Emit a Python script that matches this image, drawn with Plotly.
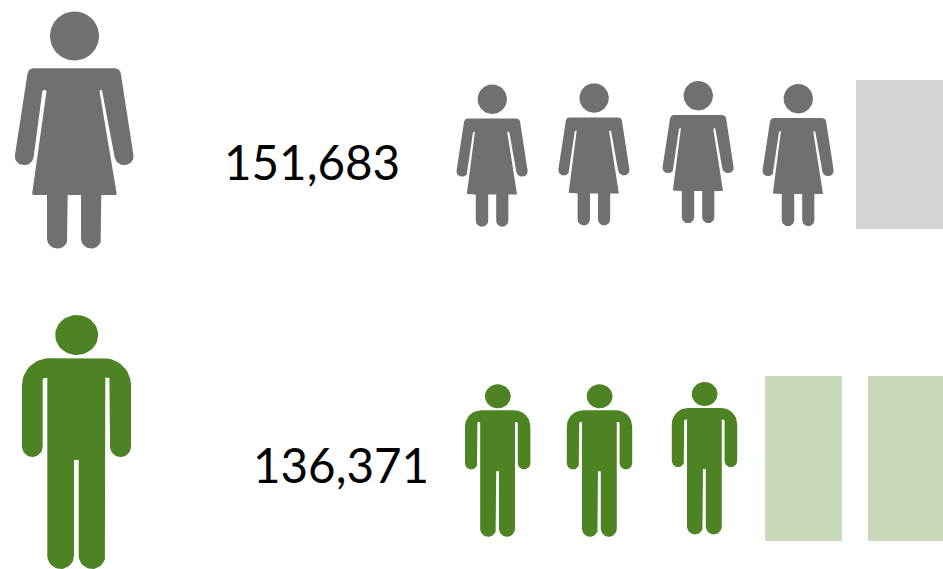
import math
import plotly.graph_objects as go

# values
grupos = ['Mujeres', 'Hombres']
totales = ['151,683', '136,371']
iconos_llenos = [4, 3]
bloques_claros = [1, 2]

GRIS = '#707070'
VERDE = '#4e8323'
GRIS_CLARO = '#d4d4d4'
VERDE_CLARO = '#c8d9bc'

# page placement, in pixels of the 943x569 picture
ICONOS_MUJER = [(456.5, 84.5), (558.3, 83.3), (662.5, 81), (762.5, 84)]
ICONOS_HOMBRE = [(465, 384.3), (566.8, 384.3), (671.8, 382)]
BLOQUES_MUJER = [(856, 80, 87, 149)]
BLOQUES_HOMBRE = [(765, 376, 77, 165), (868, 376, 76, 165)]
ESCALA = 0.6

# glyph outlines: (x, y, corner tangent length)
MUJER = [
    (28.3, 68.3, 5), (120, 68.3, 5), (134.8, 164, 9), (116.2, 166, 9),
    (102.7, 90, 1.5), (99.3, 90, 1.5), (116.9, 195, 1.5), (101.3, 195, 0),
    (101.3, 248.5, 10), (81, 248.5, 10), (81, 195, 0), (67.7, 195, 0),
    (67.7, 248.5, 10), (47, 248.5, 10), (47, 195, 0), (32, 195, 1.5),
    (46.7, 90, 1.5), (42.5, 90, 1.5), (32.5, 166, 9), (13.6, 164, 9),
]
MUJER_CABEZA = (74.5, 36, 24.5, 24.5)
HOMBRE = [
    (22, 358.3, 27), (131, 358.3, 27), (131, 457, 10.5), (110, 457, 10.5),
    (110, 377.7, 2), (105.3, 377.7, 0), (105.3, 569, 13.3), (78.7, 569, 13.3),
    (78.7, 460, 0), (74, 460, 0), (74, 569, 13.3), (47.3, 569, 13.3),
    (47.3, 377.7, 0), (42.7, 377.7, 2), (42.7, 457, 10.5), (22, 457, 10.5),
]
HOMBRE_CABEZA = (76.7, 335, 21.5, 20)


def contorno(vertices):
    """Closes a polygon, rounding each corner with a circular arc."""
    xs, ys = [], []
    n = len(vertices)
    for i, (x, y, d) in enumerate(vertices):
        if d == 0:
            xs.append(x)
            ys.append(y)
            continue
        px, py, _ = vertices[i - 1]
        nx, ny, _ = vertices[(i + 1) % n]
        l1 = math.hypot(px - x, py - y)
        l2 = math.hypot(nx - x, ny - y)
        ax, ay = x + (px - x) * d / l1, y + (py - y) * d / l1
        bx, by = x + (nx - x) * d / l2, y + (ny - y) * d / l2
        cos_a = ((px - x) * (nx - x) + (py - y) * (ny - y)) / (l1 * l2)
        peso = math.sqrt(max(0, (1 - cos_a) / 2))
        for k in range(13):
            t = k / 12
            a, b, c = (1 - t) ** 2, 2 * peso * t * (1 - t), t ** 2
            s = a + b + c
            xs.append((a * ax + b * x + c * bx) / s)
            ys.append((a * ay + b * y + c * by) / s)
    xs.append(xs[0])
    ys.append(ys[0])
    return xs, ys


def elipse(cx, cy, rx, ry):
    angulos = [2 * math.pi * k / 60 for k in range(61)]
    return ([cx + rx * math.cos(a) for a in angulos],
            [cy + ry * math.sin(a) for a in angulos])


def icono(fig, vertices, cabeza, color, izquierda=None, arriba=None, escala=1):
    """Draws one figure; its outline box is moved to izquierda/arriba."""
    cx, cy = contorno(vertices)
    hx, hy = elipse(*cabeza)
    x0 = min(cx)
    y0 = min(hy)
    if izquierda is None:
        izquierda, arriba = x0, y0
    xs = [izquierda + (v - x0) * escala for v in hx] + [None] + \
         [izquierda + (v - x0) * escala for v in cx]
    ys = [arriba + (v - y0) * escala for v in hy] + [None] + \
         [arriba + (v - y0) * escala for v in cy]
    fig.add_trace(go.Scatter(x=xs, y=ys, mode='lines', fill='toself',
                             fillcolor=color, line=dict(width=0, color=color),
                             hoverinfo='skip'))


def bloques(fig, cajas, color):
    fig.add_trace(go.Bar(x=[c[0] + c[2] / 2 for c in cajas],
                         y=[c[3] for c in cajas],
                         base=[c[1] for c in cajas],
                         width=[c[2] for c in cajas],
                         marker=dict(color=color, line=dict(width=0)),
                         hoverinfo='skip'))


fig = go.Figure()

bloques(fig, BLOQUES_MUJER[:bloques_claros[0]], GRIS_CLARO)
bloques(fig, BLOQUES_HOMBRE[:bloques_claros[1]], VERDE_CLARO)

# big figures keep their own place, small ones repeat along the row
icono(fig, MUJER, MUJER_CABEZA, GRIS)
icono(fig, HOMBRE, HOMBRE_CABEZA, VERDE, 22, 315)
for izq, arr in ICONOS_MUJER[:iconos_llenos[0]]:
    icono(fig, MUJER, MUJER_CABEZA, GRIS, izq, arr, ESCALA)
for izq, arr in ICONOS_HOMBRE[:iconos_llenos[1]]:
    icono(fig, HOMBRE, HOMBRE_CABEZA, VERDE, izq, arr, ESCALA)

fig.add_trace(go.Scatter(x=[224, 253], y=[168.5, 471.5], mode='text',
                         text=totales, textposition='middle right',
                         customdata=grupos, hoverinfo='skip',
                         textfont=dict(family='Lato', size=47.5, color='#000000')))

fig.update_xaxes(range=[0, 943], visible=False, fixedrange=True)
fig.update_yaxes(range=[569, 0], visible=False, fixedrange=True)
fig.update_layout(width=943, height=569, margin=dict(l=0, r=0, t=0, b=0),
                  paper_bgcolor='white', plot_bgcolor='white',
                  showlegend=False, barmode='overlay')

fig.write_html('out.html', config={'displayModeBar': False},
               post_script="document.body.style.margin='0';")
